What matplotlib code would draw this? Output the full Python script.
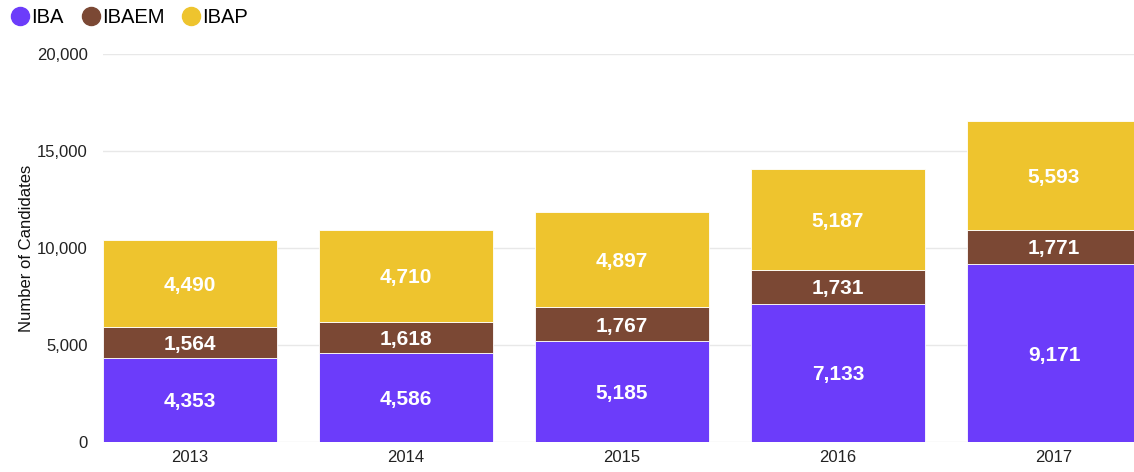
import matplotlib.pyplot as plt
from matplotlib.lines import Line2D
import numpy as np

years = ['2013', '2014', '2015', '2016', '2017']
iba = [4353, 4586, 5185, 7133, 9171]
ibaem = [1564, 1618, 1767, 1731, 1771]
ibap = [4490, 4710, 4897, 5187, 5593]

series = [('IBA', iba, '#6c3cfa'), ('IBAEM', ibaem, '#7b4834'), ('IBAP', ibap, '#eec42e')]

plt.rcParams['font.family'] = ['Liberation Sans', 'DejaVu Sans']

fig = plt.figure(figsize=(11.34, 4.72), dpi=100)
ax = fig.add_axes([0.0908, 0.0636, 0.9092, 0.822])

x = np.arange(len(years))
bottom = np.zeros(len(years))
for name, vals, col in series:
    vals = np.array(vals)
    ax.bar(x, vals, 0.805, bottom=bottom, color=col, edgecolor='white', linewidth=0.6, zorder=3)
    for xi, b, v in zip(x, bottom, vals):
        ax.text(xi, b + v / 2, f'{v:,}', ha='center', va='center_baseline', color='white',
                fontsize=15, fontweight='bold', zorder=4)
    bottom += vals

ax.set_xlim(-0.4025, 4.37)
ax.set_ylim(0, 20000)
ax.set_yticks([0, 5000, 10000, 15000, 20000])
ax.set_yticklabels(['0', '5,000', '10,000', '15,000', '20,000'])
ax.set_xticks(x)
ax.set_xticklabels(years)
ax.tick_params(axis='both', length=0, labelsize=12, colors='#222222')
ax.tick_params(axis='y', pad=11)
ax.tick_params(axis='x', pad=6)
ax.grid(axis='y', color='#e8e8e8', linewidth=1, zorder=0)
for s in ax.spines.values():
    s.set_visible(False)
ax.set_ylabel('Number of Candidates', fontsize=12, color='#111111', labelpad=2)

handles = [Line2D([], [], marker='o', linestyle='', markersize=13, color=c) for _, _, c in series]
fig.legend(handles, [n for n, _, _ in series], loc='upper left', bbox_to_anchor=(-0.001, 1.004),
           ncol=3, frameon=False, fontsize=14.5, handletextpad=0.0, columnspacing=0.8,
           borderaxespad=0.1, handlelength=1.1)

plt.savefig('out.png', dpi=100)
